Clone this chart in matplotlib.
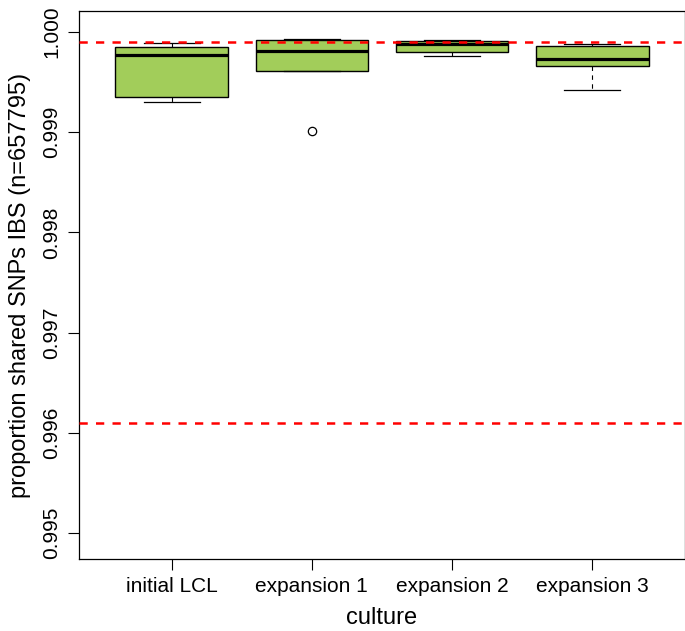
import matplotlib
matplotlib.use("Agg")
import matplotlib.pyplot as plt

# Box statistics (proportion of shared SNPs IBS)
cultures = ["initial LCL", "expansion 1", "expansion 2", "expansion 3"]
whislo = [0.99930, 0.99961, 0.99976, 0.99942]
q1 = [0.99935, 0.99961, 0.99980, 0.99966]
medians = [0.99977, 0.99981, 0.99988, 0.99973]
q3 = [0.99985, 0.99992, 0.99991, 0.99986]
whishi = [0.99989, 0.99993, 0.99992, 0.99988]
outliers = [[], [0.99901], [], []]
ref_lines = [0.999903, 0.996100]
yticks = [0.995, 0.996, 0.997, 0.998, 0.999, 1.000]

plt.rcParams["font.family"] = ["Liberation Sans", "DejaVu Sans"]

fig = plt.figure(figsize=(6.85, 6.31), dpi=100)
ax = fig.add_axes([79 / 685, 72 / 631, 606 / 685, 548 / 631])

stats = [
    dict(label=c, whislo=lo, q1=a, med=m, q3=b, whishi=hi, fliers=f)
    for c, lo, a, m, b, hi, f in zip(cultures, whislo, q1, medians, q3, whishi, outliers)
]
ax.bxp(
    stats,
    positions=range(1, len(cultures) + 1),
    widths=0.8,
    patch_artist=True,
    boxprops=dict(facecolor="#A2CD5A", edgecolor="black", linewidth=1.0),
    medianprops=dict(color="black", linewidth=2.3, solid_capstyle="butt"),
    whiskerprops=dict(color="black", linewidth=0.8, linestyle=(0, (4, 4))),
    capprops=dict(color="black", linewidth=0.9),
    capwidths=0.4,
    flierprops=dict(marker="o", markerfacecolor="none", markeredgecolor="black",
                    markersize=6, markeredgewidth=0.9),
)

for y in ref_lines:
    ax.axhline(y, color="red", linewidth=1.8, linestyle=(0, (3.3, 3.3)), zorder=5)

ax.set_xlim(0.34, 4.66)
ax.set_ylim(0.99474, 1.00021)
ax.set_yticks(yticks)
ax.set_yticklabels([f"{v:.3f}" for v in yticks], rotation=90, va="center")
ax.tick_params(axis="both", direction="out", length=8, width=0.8, labelsize=15, pad=5)
ax.set_xlabel("culture", fontsize=17, labelpad=8)
ax.set_ylabel("proportion shared SNPs IBS (n=657795)", fontsize=17, labelpad=8)
for sp in ax.spines.values():
    sp.set_linewidth(0.9)

fig.savefig("out.png", dpi=100)
